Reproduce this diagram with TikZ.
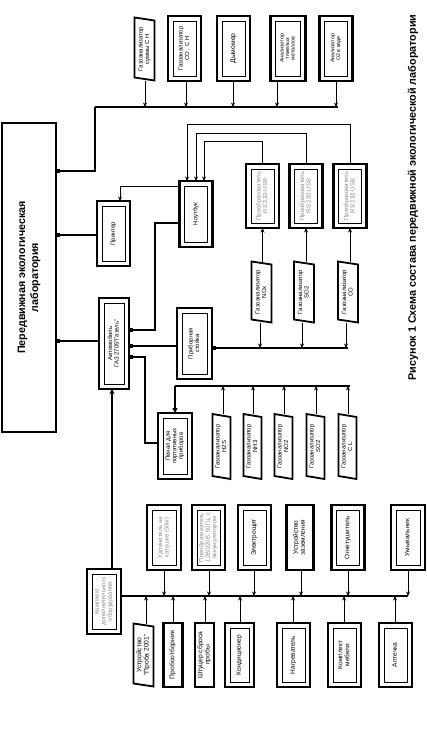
\documentclass[tikz,border=0pt]{standalone}
\usepackage{fontspec}
\setmainfont{Liberation Sans}
\usepackage{graphicx}
\usetikzlibrary{arrows.meta}
\newcommand\vtx[1]{\rotatebox{90}{\begin{tabular}{@{}c@{}}#1\end{tabular}}}
\newcommand\trapnode[7][]{%
  \node[trapn,#1,minimum width=#5,minimum height=#6] (#2) at (#3,#4) {\vtx{#7}};
  \draw[trapline] (#2.north west) -- ([yshift=-3pt]#2.north east) -- (#2.south east) -- ([yshift=3pt]#2.south west) -- cycle;}
\begin{document}
\begin{tikzpicture}[x=1pt,y=-1pt,
  txt/.style={font=\fontsize{6}{6.5}\selectfont},
  box/.style={txt,draw,line width=2.4pt,inner sep=0pt,outer sep=0pt,minimum width=33pt,minimum height=65pt},
  dbox/.style={box,path picture={\draw[line width=0.9pt]
     ([shift={(5pt,-5pt)}]path picture bounding box.north west) rectangle
     ([shift={(-5pt,5pt)}]path picture bounding box.south east);}},
  grey/.style={text=black!45},
  trapn/.style={txt,inner sep=0pt,outer sep=0pt},
  trapline/.style={line width=1.8pt,line join=miter},
  bus/.style={line width=2pt},
  arr/.style={line width=0.8pt,-{Stealth[length=4.5pt,width=4pt]}},
  sqbus/.style={bus,-{Square[length=4pt,width=4.5pt]}},
]
\useasboundingbox (0,0) rectangle (427,731);

% ---------- top row ----------
\trapnode{tsum}{144.5}{49}{20pt}{63pt}{Газоанализатор\\суммы С Н}
\node[dbox] (coch) at (184.5,48.5) {\vtx{Газоанализатор\\СО , С Н}};
\node[dbox,font=\fontsize{6.8}{7.5}\selectfont] (dym) at (233.5,48.5) {\vtx{Дымомер}};
\node[dbox,minimum width=35pt,font=\fontsize{5.3}{5.6}\selectfont] (met) at (288,48.5) {\vtx{Анализатор\\тяжелых\\металлов}};
\node[dbox,font=\fontsize{5.3}{5.8}\selectfont] (o2) at (336,48.5) {\vtx{Анализатор\\О2 в воде}};

% ---------- lab ----------
\node[box,line width=2pt,minimum width=54pt,minimum height=309pt,
      font=\bfseries\fontsize{10.7}{13}\selectfont] (lab) at (29,277.5)
      {\vtx{Передвижная экологическая\\лаборатория}};

% ---------- middle ----------
\node[dbox] (printer) at (113.5,233.5) {\vtx{Принтер}};
\node[dbox,minimum height=66pt] (nb) at (196,214) {\vtx{Ноутбук}};
\node[dbox,grey,minimum height=64pt] (p1) at (262.5,196) {\vtx{Преобразователь\\RS 232-USB}};
\node[dbox,grey,minimum height=64pt] (p2) at (306,196) {\vtx{Преобразователь\\RS 232-USB}};
\node[dbox,grey,minimum height=64pt] (p3) at (350,196) {\vtx{Преобразователь\\RS 232-USB}};
\trapnode{nox}{261.5}{292}{20pt}{61pt}{Газоанализатор\\NOx}
\trapnode{sotwo}{304}{292}{20pt}{61pt}{Газоанализатор\\SO2}
\trapnode{co}{348}{292}{20pt}{61pt}{Газоанализатор\\CO}
\node[dbox,minimum width=35pt,minimum height=71pt] (stand) at (194.5,343.5) {\vtx{Приборная\\стойка}};
\node[dbox,minimum width=30pt,minimum height=91pt] (auto) at (114,343.5) {\vtx{Автомобиль\\ГАЗ 2705"Газель"}};
\node[dbox,minimum width=34pt,minimum height=66pt] (penal) at (175,446) {\vtx{Пенал для\\портативных\\приборов}};
\trapnode{hs}{221.5}{446.5}{18pt}{65pt}{Газоанализатор\\H2S}
\trapnode{nh}{252.5}{446.5}{18pt}{65pt}{Газоанализатор\\NH3}
\trapnode{no}{283.5}{446.5}{18pt}{65pt}{Газоанализатор\\NO2}
\trapnode{so}{315.5}{446.5}{18pt}{65pt}{Газоанализатор\\SO2}
\trapnode{cl}{347.5}{446.5}{18pt}{65pt}{Газоанализатор\\С L}

% ---------- bottom ----------
\node[dbox,grey,minimum width=34pt] (kompl) at (104,601.5) {\vtx{Комплект\\дополнительного\\оборудования}};
\node[dbox,grey,minimum width=34pt] (udl) at (164,537.5) {\vtx{Удлинитель на\\катушке (50м)}};
\node[dbox,grey] (pr12) at (208.5,537.5) {\vtx{Преобразователь\\12В/220В, 50Гц, с\\аккумулятором}};
\node[dbox,font=\fontsize{6.5}{7}\selectfont] (elec) at (254.5,537.5) {\vtx{Электрощит}};
\node[box,minimum width=27pt,font=\fontsize{6.5}{7}\selectfont] (zaz) at (300,537.5) {\vtx{Устройство\\заземления}};
\node[dbox,font=\fontsize{6.5}{7}\selectfont] (ogn) at (348,537.5) {\vtx{Огнетушитель}};
\node[dbox,minimum width=34pt,font=\fontsize{6.5}{7}\selectfont] (umyv) at (408,537.5) {\vtx{Умывальник}};

\trapnode[font=\fontsize{6.7}{7.2}\selectfont]{proba}{143.5}{655}{20pt}{63pt}{Устройство\\"Проба 2001"}
\node[box,minimum width=19pt,minimum height=64pt,font=\fontsize{6.7}{7.2}\selectfont] (probo) at (173,655) {\vtx{Пробоотборник}};
\node[box,minimum width=19pt,minimum height=64pt,font=\fontsize{6.7}{7.2}\selectfont] (shtuc) at (204.5,655) {\vtx{Штуцер сброса\\пробы}};
\node[dbox,minimum width=29pt,minimum height=64pt,font=\fontsize{6.5}{7}\selectfont] (kond) at (239.5,655) {\vtx{Кондиционер}};
\node[dbox,minimum height=64pt,font=\fontsize{6.5}{7}\selectfont] (nagr) at (293.5,655) {\vtx{Нагреватель}};
\node[dbox,minimum height=64pt,font=\fontsize{6.5}{7}\selectfont] (mebel) at (344.5,655) {\vtx{Комплект\\мебели}};
\node[dbox,minimum height=64pt,font=\fontsize{6.5}{7}\selectfont] (apt) at (395.5,655) {\vtx{Аптечка}};

% ---------- caption ----------
\node[rotate=90,font=\bfseries\fontsize{10.8}{12}\selectfont] (cap) at (413,197.5)
  {Рисунок 1 Схема состава передвижной экологической лаборатории};

% ---------- top bus ----------
\coordinate (tbL) at (95,107); \coordinate (tbR) at (338,107);
\coordinate (tb1) at (145,107); \coordinate (tb2) at (186,107);
\coordinate (tb3) at (233,107); \coordinate (tb4) at (277,107);
\coordinate (tb5) at (336,107);
\draw[bus] (tbL) -- (tbR);
\draw[arr] (tsum.south -| tb1) -- (tb1);
\draw[arr] (coch.south -| tb2) -- (tb2);
\draw[arr] (dym.south -| tb3) -- (tb3);
\draw[arr] (met.south -| tb4) -- (tb4);
\draw[arr] (o2.south -| tb5) -- (tb5);
\draw[sqbus] (tbL) |- (lab.east |- 0,171);

% ---------- lab links ----------
\draw[sqbus] (printer.west |- 0,235) -- (lab.east |- 0,235);
\draw[sqbus] (auto.west |- 0,341) -- (lab.east |- 0,341);

% ---------- notebook ----------
\draw[arr] (nb.west |- 0,186) -| (printer.north -| 120,0);
\draw[sqbus] (nb.west |- 0,223) -| (155,330) -- (auto.east |- 0,330);
\draw[arr] (p1.north) -- (p1.north |- 0,141) -| (nb.north -| 204,0);
\draw[arr] (p2.north) -- (p2.north |- 0,133) -| (nb.north -| 196,0);
\draw[arr] (p3.north) -- (p3.north |- 0,124) -| (nb.north -| 187,0);
\draw[arr] (nox.north -| p1.south) -- (p1.south);
\draw[arr] (sotwo.north -| p2.south) -- (p2.south);
\draw[arr] (co.north -| p3.south) -- (p3.south);

% ---------- stand bus ----------
\coordinate (sbR) at (348,348);
\coordinate (sb1) at (260,348); \coordinate (sb2) at (302,348); \coordinate (sb3) at (346,348);
\draw[bus,{Square[length=4pt,width=4.5pt]}-] (stand.east |- sbR) -- (sbR);
\draw[arr] (nox.south -| sb1) -- (sb1);
\draw[arr] (sotwo.south -| sb2) -- (sb2);
\draw[arr] (co.south -| sb3) -- (sb3);
\draw[sqbus] (stand.west |- 0,346) -- (auto.east |- 0,346);

% ---------- penal bus ----------
\coordinate (pbL) at (175,386); \coordinate (pbR) at (350,386);
\coordinate (pb1) at (223,386); \coordinate (pb2) at (253,386);
\coordinate (pb3) at (284,386); \coordinate (pb4) at (316,386);
\coordinate (pb5) at (348,386);
\draw[bus] (pbL) -- (pbR);
\draw[bus,-{Triangle[length=5pt,width=5pt]}] (pbL) -- (penal.north);
\draw[arr] (hs.north -| pb1) -- (pb1);
\draw[arr] (nh.north -| pb2) -- (pb2);
\draw[arr] (no.north -| pb3) -- (pb3);
\draw[arr] (so.north -| pb4) -- (pb4);
\draw[arr] (cl.north -| pb5) -- (pb5);
\draw[sqbus] (penal.west |- 0,443) -| (145,357) -- (auto.east |- 0,357);

% ---------- bottom bus ----------
\draw[bus,-{Stealth[length=5pt,width=5pt]}] (kompl.north -| 112,0) -- (auto.south -| 112,0);
\coordinate (bbR) at (408,596);
\draw[bus] (kompl.east |- bbR) -- (bbR);
\coordinate (bu1) at (164,596); \coordinate (bu2) at (209,596);
\coordinate (bu3) at (254,596); \coordinate (bu4) at (301,596);
\coordinate (bu5) at (348,596); \coordinate (bu6) at (408,596);
\draw[arr] (udl.south -| bu1) -- (bu1);
\draw[arr] (pr12.south -| bu2) -- (bu2);
\draw[arr] (elec.south -| bu3) -- (bu3);
\draw[arr] (zaz.south -| bu4) -- (bu4);
\draw[arr] (ogn.south -| bu5) -- (bu5);
\draw[arr] (umyv.south -| bu6) -- (bu6);
\coordinate (bl1) at (146,596); \coordinate (bl2) at (173,596);
\coordinate (bl3) at (205,596); \coordinate (bl4) at (240,596);
\coordinate (bl5) at (293,596); \coordinate (bl6) at (344,596);
\coordinate (bl7) at (395,596);
\draw[arr] (proba.north -| bl1) -- (bl1);
\draw[arr] (probo.north -| bl2) -- (bl2);
\draw[arr] (shtuc.north -| bl3) -- (bl3);
\draw[arr] (kond.north -| bl4) -- (bl4);
\draw[arr] (nagr.north -| bl5) -- (bl5);
\draw[arr] (mebel.north -| bl6) -- (bl6);
\draw[arr] (apt.north -| bl7) -- (bl7);
\end{tikzpicture}
\end{document}
